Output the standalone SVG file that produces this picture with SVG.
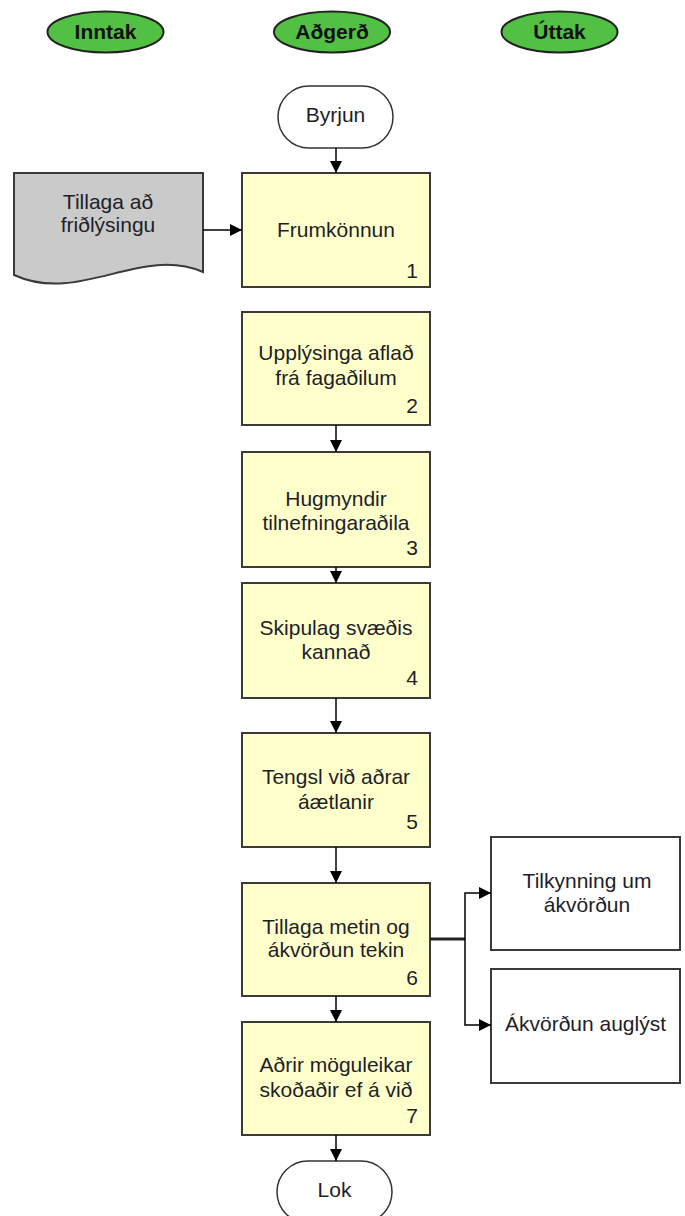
<svg xmlns="http://www.w3.org/2000/svg" width="685" height="1216" viewBox="0 0 685 1216">
<defs>
<marker id="arr" markerUnits="userSpaceOnUse" markerWidth="12" markerHeight="12" refX="12" refY="6" orient="auto">
<path d="M0,0 L12,6 L0,12 z" fill="#000"/>
</marker>
<style>
.t{font-family:"Liberation Sans",Arial,sans-serif;font-size:21px;fill:#1e1e28;text-anchor:middle}
.n{font-family:"Liberation Sans",Arial,sans-serif;font-size:21px;fill:#1e1e28;text-anchor:end}
.h{font-family:"Liberation Sans",Arial,sans-serif;font-size:21px;font-weight:bold;fill:#111;text-anchor:middle}
.lane{fill:#52c042;stroke:#222;stroke-width:2}
.proc{fill:#ffffcc;stroke:#3a3a3a;stroke-width:2}
.out{fill:#fff;stroke:#3a3a3a;stroke-width:2}
.term{fill:#fff;stroke:#333;stroke-width:1.5}
.doc{fill:#cacaca;stroke:#3a3a3a;stroke-width:2}
.c{fill:none;stroke:#000;stroke-width:1.5}
</style>
</defs>

<g id="lane-inntak"><ellipse class="lane" cx="105.5" cy="32" rx="58" ry="20.5"/><text class="h" x="105.5" y="39">Inntak</text></g>
<g id="lane-adgerd"><ellipse class="lane" cx="332" cy="32" rx="58" ry="20.5"/><text class="h" x="332" y="39">Aðgerð</text></g>
<g id="lane-uttak"><ellipse class="lane" cx="559.5" cy="32" rx="58" ry="20.5"/><text class="h" x="559.5" y="39">Úttak</text></g>

<g id="byrjun"><rect class="term" x="278" y="86" width="115" height="62" rx="31" ry="31"/><text class="t" x="335.5" y="122">Byrjun</text></g>

<g id="tillaga-doc"><path class="doc" d="M14,173 H203 V272 C140,245 80,305 14,275 Z"/><text class="t" x="108" y="209">Tillaga að</text><text class="t" x="108" y="232">friðlýsingu</text></g>

<g id="step1"><rect class="proc" x="242" y="173" width="188" height="114"/><text class="t" x="336" y="237">Frumkönnun</text><text class="n" x="418" y="278">1</text></g>
<g id="step2"><rect class="proc" x="242" y="312" width="188" height="113"/><text class="t" x="336" y="360">Upplýsinga aflað</text><text class="t" x="336" y="385">frá fagaðilum</text><text class="n" x="418" y="413">2</text></g>
<g id="step3"><rect class="proc" x="242" y="452" width="188" height="115"/><text class="t" x="336" y="506">Hugmyndir</text><text class="t" x="336" y="530">tilnefningaraðila</text><text class="n" x="418" y="555">3</text></g>
<g id="step4"><rect class="proc" x="242" y="583" width="188" height="115"/><text class="t" x="336" y="635">Skipulag svæðis</text><text class="t" x="336" y="659">kannað</text><text class="n" x="418" y="685">4</text></g>
<g id="step5"><rect class="proc" x="242" y="733" width="188" height="114"/><text class="t" x="336" y="784">Tengsl við aðrar</text><text class="t" x="336" y="809">áætlanir</text><text class="n" x="418" y="829">5</text></g>
<g id="step6"><rect class="proc" x="242" y="883" width="188" height="113"/><text class="t" x="336" y="934">Tillaga metin og</text><text class="t" x="336" y="957">ákvörðun tekin</text><text class="n" x="418" y="985">6</text></g>
<g id="step7"><rect class="proc" x="242" y="1022" width="188" height="113"/><text class="t" x="336" y="1072">Aðrir möguleikar</text><text class="t" x="336" y="1097">skoðaðir ef á við</text><text class="n" x="418" y="1123">7</text></g>

<g id="tilkynning"><rect class="out" x="491" y="837" width="189" height="113"/><text class="t" x="587" y="888">Tilkynning um</text><text class="t" x="587" y="912">ákvörðun</text></g>
<g id="auglyst"><rect class="out" x="491" y="969" width="189" height="114"/><text class="t" x="585.5" y="1031">Ákvörðun auglýst</text></g>

<g id="lok"><rect class="term" x="277" y="1161" width="115" height="62" rx="31" ry="31"/><text class="t" x="334.5" y="1197">Lok</text></g>

<g id="connectors">
<path class="c" d="M336,148 V173" marker-end="url(#arr)"/>
<path class="c" d="M203,230 H242" marker-end="url(#arr)"/>
<path class="c" d="M336,425 V452" marker-end="url(#arr)"/>
<path class="c" d="M336,567 V583" marker-end="url(#arr)"/>
<path class="c" d="M336,698 V733" marker-end="url(#arr)"/>
<path class="c" d="M336,847 V883" marker-end="url(#arr)"/>
<path class="c" d="M336,996 V1022" marker-end="url(#arr)"/>
<path class="c" d="M336,1135 V1161" marker-end="url(#arr)"/>
<path d="M430,939 H465" fill="none" stroke="#222" stroke-width="3"/>
<path class="c" d="M465,939 V893 H491" marker-end="url(#arr)"/>
<path class="c" d="M465,939 V1025 H491" marker-end="url(#arr)"/>
</g>
</svg>
